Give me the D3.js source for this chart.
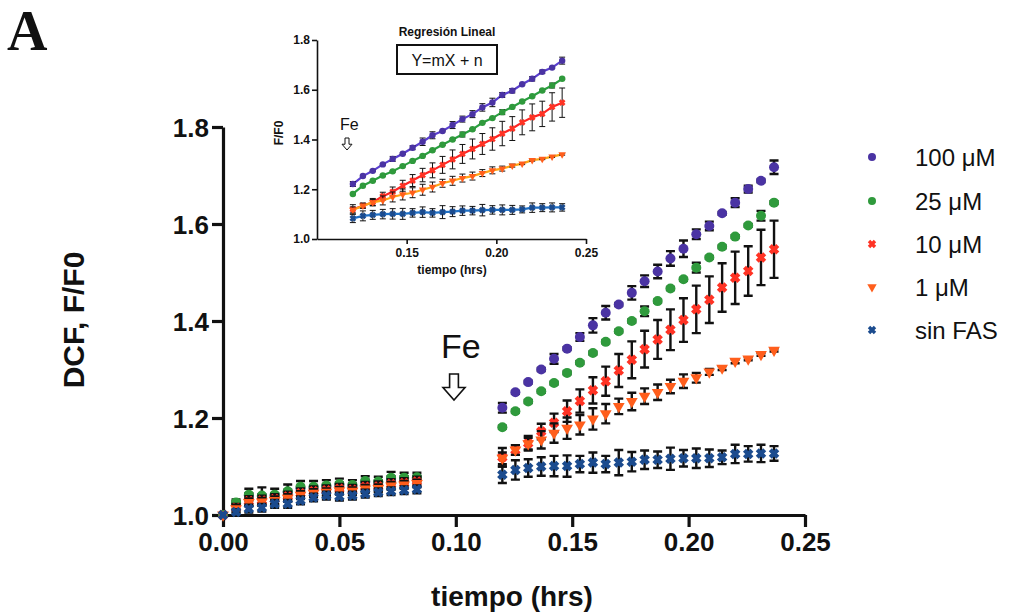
<!DOCTYPE html>
<html>
<head>
<meta charset="utf-8">
<script src="https://cdn.jsdelivr.net/npm/d3@7"></script>
<style>
  html, body { margin: 0; padding: 0; background: #fff; }
  svg { display: block; }
  text { font-family: "Liberation Sans", Arial, sans-serif; }
</style>
</head>
<body>
<svg id="chart" width="1012" height="615"></svg>
<script>
// ---- data -------------------------------------------------------------
const seriesNames = ["100 \u03bcM", "25 \u03bcM", "10 \u03bcM", "1 \u03bcM", "sin FAS"];

// basal reading, every 20 s (hrs)
const timeBasal = [0, 0.0056, 0.0111, 0.0167, 0.0222, 0.0278, 0.0333, 0.0389,
                   0.0444, 0.05, 0.0556, 0.0611, 0.0667, 0.0722, 0.0778, 0.0833];
// after Fe addition (hrs)
const timeFe = [0.12, 0.1256, 0.1311, 0.1367, 0.1422, 0.1478, 0.1533, 0.1589,
                0.1644, 0.17, 0.1756, 0.1811, 0.1867, 0.1922, 0.1978, 0.2033,
                0.2089, 0.2144, 0.22, 0.2256, 0.2311, 0.2367];

// F/F0 means, basal phase
const basal100 = [1.000, 1.024, 1.040, 1.038, 1.040, 1.047, 1.055, 1.056, 1.059, 1.062, 1.060, 1.068, 1.067, 1.075, 1.075, 1.076];
const basal25  = [1.000, 1.026, 1.042, 1.040, 1.042, 1.049, 1.058, 1.058, 1.061, 1.064, 1.062, 1.070, 1.069, 1.077, 1.077, 1.078];
const basal10  = [1.000, 1.015, 1.029, 1.030, 1.033, 1.038, 1.045, 1.049, 1.051, 1.054, 1.052, 1.058, 1.059, 1.064, 1.066, 1.069];
const basal1   = [1.000, 1.013, 1.026, 1.027, 1.030, 1.035, 1.041, 1.045, 1.047, 1.050, 1.049, 1.054, 1.055, 1.060, 1.062, 1.065];
const basal0   = [1.000, 1.006, 1.013, 1.015, 1.023, 1.023, 1.030, 1.036, 1.040, 1.038, 1.040, 1.044, 1.047, 1.049, 1.051, 1.053];

// SEM, basal phase
const basalErr100 = [0, 0.004, 0.005, 0.005, 0.005, 0.005, 0.005, 0.005, 0.005, 0.005, 0.005, 0.005, 0.005, 0.005, 0.005, 0.005];
const basalErr25  = [0, 0.006, 0.012, 0.017, 0.012, 0.014, 0.012, 0.012, 0.011, 0.011, 0.010, 0.010, 0.010, 0.012, 0.010, 0.009];
const basalErr10  = [0, 0.008, 0.010, 0.010, 0.010, 0.010, 0.010, 0.010, 0.010, 0.010, 0.010, 0.010, 0.010, 0.010, 0.010, 0.010];
const basalErr1   = [0, 0.008, 0.008, 0.008, 0.008, 0.008, 0.008, 0.008, 0.008, 0.008, 0.008, 0.008, 0.008, 0.008, 0.008, 0.008];
const basalErr0   = [0, 0.006, 0.008, 0.008, 0.008, 0.008, 0.008, 0.008, 0.008, 0.008, 0.008, 0.008, 0.008, 0.008, 0.008, 0.008];

// F/F0 means after Fe addition
const fe100 = [1.221, 1.253, 1.274, 1.300, 1.322, 1.343, 1.367, 1.391, 1.417, 1.434, 1.458, 1.482, 1.502, 1.529, 1.549, 1.579, 1.596, 1.622, 1.644, 1.672, 1.689, 1.717];
const fe25  = [1.181, 1.214, 1.234, 1.255, 1.272, 1.293, 1.314, 1.334, 1.357, 1.379, 1.400, 1.420, 1.441, 1.467, 1.486, 1.510, 1.531, 1.553, 1.574, 1.597, 1.617, 1.644];
const fe10  = [1.119, 1.134, 1.148, 1.172, 1.190, 1.214, 1.235, 1.257, 1.276, 1.298, 1.320, 1.342, 1.362, 1.382, 1.402, 1.424, 1.444, 1.469, 1.489, 1.503, 1.531, 1.548];
const fe1   = [1.117, 1.134, 1.147, 1.155, 1.169, 1.179, 1.186, 1.198, 1.209, 1.224, 1.234, 1.245, 1.253, 1.265, 1.276, 1.283, 1.295, 1.303, 1.317, 1.322, 1.331, 1.340];
const fe0   = [1.083, 1.093, 1.097, 1.100, 1.101, 1.101, 1.105, 1.108, 1.105, 1.108, 1.110, 1.114, 1.114, 1.116, 1.117, 1.117, 1.117, 1.119, 1.126, 1.126, 1.127, 1.127];

// SEM after Fe addition
const feErr100 = [0.010, 0.003, 0.003, 0.003, 0.010, 0.003, 0.008, 0.015, 0.014, 0.003, 0.014, 0.012, 0.014, 0.015, 0.017, 0.010, 0.009, 0.003, 0.009, 0.007, 0.003, 0.014];
const feErr25  = [0.003, 0.003, 0.003, 0.003, 0.003, 0.003, 0.003, 0.003, 0.003, 0.003, 0.003, 0.010, 0.003, 0.003, 0.003, 0.010, 0.003, 0.003, 0.003, 0.003, 0.010, 0.003];
const feErr10  = [0.019, 0.010, 0.015, 0.016, 0.019, 0.022, 0.024, 0.027, 0.030, 0.034, 0.038, 0.038, 0.040, 0.042, 0.045, 0.049, 0.048, 0.050, 0.054, 0.051, 0.057, 0.059];
const feErr1   = [0.012, 0.010, 0.012, 0.018, 0.020, 0.022, 0.020, 0.022, 0.020, 0.016, 0.018, 0.016, 0.016, 0.014, 0.014, 0.010, 0.006, 0.004, 0.004, 0.003, 0.003, 0.003];
const feErr0   = [0.017, 0.020, 0.018, 0.019, 0.021, 0.022, 0.017, 0.021, 0.017, 0.026, 0.020, 0.019, 0.017, 0.023, 0.017, 0.020, 0.018, 0.014, 0.019, 0.016, 0.018, 0.015];

// axis ticks
const mainXTicks = [0, 0.05, 0.10, 0.15, 0.20, 0.25];
const mainYTicks = [1.0, 1.2, 1.4, 1.6, 1.8];
const insetXTicks = [0.15, 0.20, 0.25];
const insetYTicks = [1.0, 1.2, 1.4, 1.6, 1.8];

// ---- styling per series ------------------------------------------------
const markerColors = ["#4a33a3", "#2f9a3c", "#ff3324", "#ff5e1c", "#1b4b8e"];
const lineColors   = ["#5a3fd0", "#2aa040", "#ff2424", "#ffa516", "#1e6fc4"];
const markerShapes = ["circle", "circle", "x", "tri", "x"];

const basalVals = [basal100, basal25, basal10, basal1, basal0];
const basalErrs = [basalErr100, basalErr25, basalErr10, basalErr1, basalErr0];
const feVals = [fe100, fe25, fe10, fe1, fe0];
const feErrs = [feErr100, feErr25, feErr10, feErr1, feErr0];

const series = seriesNames.map((name, i) => ({
  name,
  color: markerColors[i],
  lineColor: lineColors[i],
  shape: markerShapes[i],
  basal: timeBasal.map((t, k) => ({ t, v: basalVals[i][k], e: basalErrs[i][k] })),
  fe: timeFe.map((t, k) => ({ t, v: feVals[i][k], e: feErrs[i][k] }))
}));

const svg = d3.select("#chart");

// draws one marker of the given shape into g
function marker(g, shape, color, s) {
  if (shape === "circle") {
    g.append("circle").attr("r", s).attr("fill", color);
  } else if (shape === "x") {
    const r = s * 0.75;
    g.append("path")
      .attr("d", `M${-r},${-r}L${r},${r}M${-r},${r}L${r},${-r}`)
      .attr("stroke", color).attr("stroke-width", s * 0.85).attr("fill", "none");
  } else {
    g.append("path")
      .attr("d", d3.symbol(d3.symbolTriangle, s * s * 2.4)())
      .attr("transform", "rotate(180)")
      .attr("fill", color);
  }
}

// scatter with error bars for a set of points
function drawPoints(layer, pts, s, xs, ys, opt) {
  const eb = layer.append("g").attr("stroke", "#111").attr("stroke-width", opt.ebWidth).attr("fill", "none");
  pts.forEach(p => {
    if (p.e <= 0) return;
    const x = xs(p.t), y0 = ys(p.v - p.e), y1 = ys(p.v + p.e);
    eb.append("path").attr("d",
      `M${x},${y0}V${y1}M${x - opt.cap},${y1}H${x + opt.cap}M${x - opt.cap},${y0}H${x + opt.cap}`);
  });
  pts.forEach(p => {
    const g = layer.append("g").attr("transform", `translate(${xs(p.t)},${ys(p.v)})`);
    marker(g, s.shape, s.color, opt.size);
  });
}

// ---- main panel --------------------------------------------------------
const x = d3.scaleLinear().domain([0, 0.25]).range([223, 805]);
const y = d3.scaleLinear().domain([1.0, 1.8]).range([515, 127]);

const gx = svg.append("g").attr("transform", `translate(0,${y(1.0)})`)
  .call(d3.axisBottom(x).tickValues(mainXTicks).tickFormat(d3.format(".2f"))
        .tickSize(12).tickSizeOuter(0).tickPadding(6));
const gy = svg.append("g").attr("transform", `translate(${x(0)},0)`)
  .call(d3.axisLeft(y).tickValues(mainYTicks).tickFormat(d3.format(".1f"))
        .tickSize(11).tickSizeOuter(0).tickPadding(3));
[gx, gy].forEach(g => {
  g.select(".domain").attr("stroke", "#111").attr("stroke-width", 3.2);
  g.selectAll(".tick line").attr("stroke", "#111").attr("stroke-width", 3.2);
  g.selectAll(".tick text").attr("fill", "#111")
    .style("font-size", "26px").style("font-weight", "bold")
    .style("font-family", "'Liberation Sans', Arial, sans-serif");
});
gy.selectAll(".tick text").attr("dy", "0.36em");

const mainLayer = svg.append("g");
series.forEach(s => {
  drawPoints(mainLayer, s.basal.concat(s.fe), s, x, y, { size: 5, cap: 4.5, ebWidth: 2.4 });
});

// axis titles
svg.append("text").attr("transform", "translate(84,320) rotate(-90)")
  .attr("text-anchor", "middle").style("font-size", "30px").style("font-weight", "bold")
  .attr("fill", "#111").text("DCF, F/F0");
svg.append("text").attr("x", 512).attr("y", 606)
  .attr("text-anchor", "middle").style("font-size", "28px").style("font-weight", "bold")
  .attr("fill", "#111").text("tiempo (hrs)");

// panel letter
svg.append("text").attr("x", 7).attr("y", 50)
  .style("font-family", "'Liberation Serif', 'Times New Roman', serif")
  .style("font-size", "56px").style("font-weight", "bold").attr("fill", "#111").text("A");

// outlined down arrow marking the Fe addition
function downArrow(cx, top, w, h) {
  const sw = w * 0.4, hh = h * 0.48;
  return `M${cx - sw / 2},${top}H${cx + sw / 2}V${top + h - hh}H${cx + w / 2}L${cx},${top + h}L${cx - w / 2},${top + h - hh}H${cx - sw / 2}Z`;
}
svg.append("text").attr("x", 441).attr("y", 358)
  .style("font-size", "34px").attr("fill", "#111").text("Fe");
svg.append("path").attr("d", downArrow(454, 374, 22, 26))
  .attr("fill", "#fff").attr("stroke", "#111").attr("stroke-width", 1.6);

// legend
const legend = svg.append("g");
const legendY = [157, 201, 244, 287, 330];
series.forEach((s, i) => {
  const g = legend.append("g").attr("transform", `translate(872,${legendY[i]})`);
  marker(g, s.shape, s.color, 4);
  legend.append("text").attr("x", 915).attr("y", legendY[i] + 9)
    .style("font-size", "24px").attr("fill", "#111").text(s.name);
});

// ---- inset: linear phase after Fe --------------------------------------
const ix = d3.scaleLinear().domain([0.10, 0.25]).range([317, 586]);
const iy = d3.scaleLinear().domain([1.0, 1.8]).range([239, 40]);

const igx = svg.append("g").attr("transform", `translate(0,${iy(1.0)})`)
  .call(d3.axisBottom(ix).tickValues(insetXTicks).tickFormat(d3.format(".2f"))
        .tickSize(5).tickSizeOuter(0).tickPadding(4));
const igy = svg.append("g").attr("transform", `translate(${ix(0.10)},0)`)
  .call(d3.axisLeft(iy).tickValues(insetYTicks).tickFormat(d3.format(".1f"))
        .tickSize(5).tickSizeOuter(0).tickPadding(2));
[igx, igy].forEach(g => {
  g.select(".domain").attr("stroke", "#111").attr("stroke-width", 1.6);
  g.selectAll(".tick line").attr("stroke", "#111").attr("stroke-width", 1.6);
  g.selectAll(".tick text").attr("fill", "#111")
    .style("font-size", "12px").style("font-weight", "bold")
    .style("font-family", "'Liberation Sans', Arial, sans-serif");
});

const insetLayer = svg.append("g");
const line = d3.line().x(d => ix(d.t)).y(d => iy(d.v));
series.forEach(s => {
  insetLayer.append("path").attr("d", line(s.fe))
    .attr("fill", "none").attr("stroke", s.lineColor).attr("stroke-width", 2.2);
  drawPoints(insetLayer, s.fe, s, ix, iy, { size: 3.2, cap: 3, ebWidth: 1 });
});

svg.append("text").attr("x", 447).attr("y", 36).attr("text-anchor", "middle")
  .style("font-size", "12px").style("font-weight", "bold").attr("fill", "#111")
  .text("Regresi\u00f3n Lineal");
svg.append("rect").attr("x", 397).attr("y", 45).attr("width", 100).attr("height", 29)
  .attr("fill", "#fff").attr("stroke", "#111").attr("stroke-width", 2);
svg.append("text").attr("x", 447).attr("y", 66).attr("text-anchor", "middle")
  .style("font-size", "16px").attr("fill", "#111").text("Y=mX + n");

svg.append("text").attr("transform", "translate(283,133) rotate(-90)")
  .attr("text-anchor", "middle").style("font-size", "12px").style("font-weight", "bold")
  .attr("fill", "#111").text("F/F0");
svg.append("text").attr("x", 452).attr("y", 274).attr("text-anchor", "middle")
  .style("font-size", "12px").style("font-weight", "bold").attr("fill", "#111")
  .text("tiempo (hrs)");
svg.append("text").attr("x", 340).attr("y", 130)
  .style("font-size", "16px").attr("fill", "#111").text("Fe");
svg.append("path").attr("d", downArrow(347, 138, 10, 12))
  .attr("fill", "#fff").attr("stroke", "#111").attr("stroke-width", 1);
</script>
</body>
</html>
